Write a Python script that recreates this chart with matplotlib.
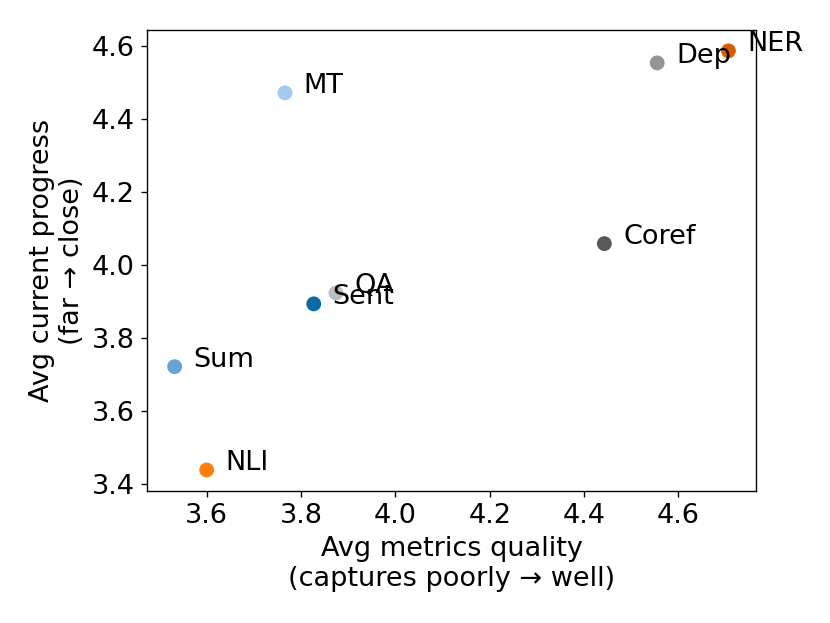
import matplotlib
matplotlib.use('Agg')
import matplotlib.pyplot as plt

# per-task averages
tasks = ['MT', 'Dep', 'NER', 'Coref', 'QA', 'Sent', 'Sum', 'NLI']
metrics_quality = [3.766, 4.555, 4.706, 4.443, 3.874, 3.827, 3.532, 3.600]
current_progress = [4.471, 4.553, 4.586, 4.058, 3.923, 3.893, 3.721, 3.438]
colors = ['#a4c8ee', '#949494', '#d55e00', '#595959', '#bdbdbd', '#0a6aa6', '#66a3d6', '#ff7f0e']

dpi = 122
fig, ax = plt.subplots(figsize=(830 / dpi, 623 / dpi), dpi=dpi)
fig.subplots_adjust(left=0.177, right=0.911, top=0.952, bottom=0.212)

ax.scatter(metrics_quality, current_progress, c=colors, s=60, zorder=2)
for name, x, y in zip(tasks, metrics_quality, current_progress):
    ax.text(x + 0.04, y, name, fontsize=16)

ax.set_xlabel('Avg metrics quality\n(captures poorly \u2192 well)', fontsize=16)
ax.set_ylabel('Avg current progress\n(far \u2192 close)', fontsize=16)
ax.tick_params(labelsize=16)

plt.savefig('out.png', dpi=dpi)
